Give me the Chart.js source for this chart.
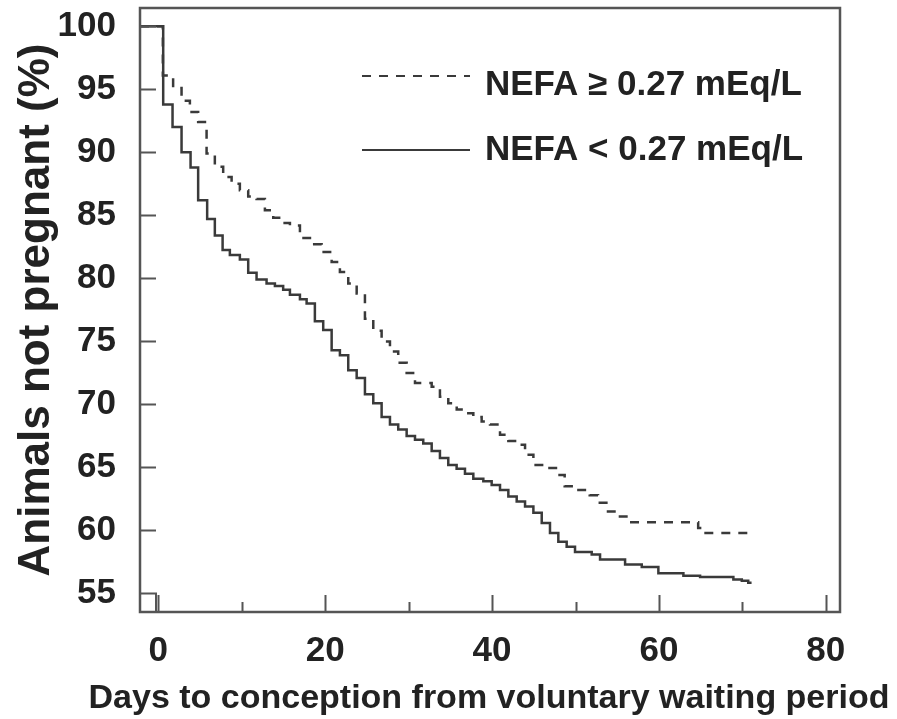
<!DOCTYPE html>
<html>
<head>
<meta charset="utf-8">
<script src="https://cdn.jsdelivr.net/npm/chart.js@4.4.0/dist/chart.umd.min.js"></script>
<style>
  html, body { margin: 0; padding: 0; background: #fff; }
  #wrap { width: 897px; height: 719px; }
</style>
</head>
<body>
<div id="wrap"><canvas id="myChart" width="897" height="719"></canvas></div>
<script>
// values (days, % not pregnant)
var highDays = [-2.2, 0.54, 1.77, 2.78, 3.78, 4.77, 5.78, 6.77, 7.77, 8.78, 9.77, 10.77, 11.77, 12.77, 13.77, 14.77, 15.77, 16.97, 18.17, 19.57,
  20.77, 21.76, 22.76, 23.77, 24.76, 25.76, 26.76, 27.76, 28.75, 29.76, 30.76, 32.76, 33.75, 34.75, 35.76, 36.95, 37.75, 38.75, 39.75,
  40.95, 41.95, 42.95, 43.95, 44.95, 46.3, 47.9, 48.7, 50.1, 51.7, 52.7, 53.7, 54.9, 56.3, 64.7, 65.3, 70.7];
var highValues = [100, 96.1, 95.1, 94.1, 93.2, 92.4, 89.9, 88.85, 88.05, 87.5, 87.0, 86.5, 86.3, 85.4, 84.8, 84.4, 84.2, 83.2, 82.7, 82.1,
  81.3, 80.5, 79.6, 78.8, 76.8, 75.85, 75.0, 74.2, 73.3, 72.5, 71.7, 71.4, 70.6, 70.1, 69.6, 69.3, 69.0, 68.65, 68.4,
  67.6, 67.1, 66.8, 66.0, 65.2, 64.95, 64.4, 63.5, 63.2, 62.8, 62.2, 61.5, 61.1, 60.65, 60.2, 59.8, 59.8];

var lowDays = [-2.2, 0.58, 1.70, 2.78, 3.86, 4.77, 5.85, 6.77, 7.70, 8.57, 9.77, 10.77, 11.77, 12.97, 13.97, 14.96, 15.77, 16.97, 17.77, 18.76,
  19.76, 20.77, 21.76, 22.76, 23.77, 24.76, 25.76, 26.76, 27.76, 28.75, 29.76, 30.76, 31.75, 32.76, 33.75, 34.75, 35.75, 36.75, 37.75,
  38.95, 39.95, 40.95, 41.95, 42.95, 43.95, 44.95, 45.95, 46.94, 47.94, 48.94, 49.94, 51.94, 52.94, 55.94, 57.94, 59.93, 62.93, 64.93,
  68.92, 69.93, 70.7, 71.1];
var lowValues = [100, 93.8, 92.0, 90.0, 88.8, 86.2, 84.7, 83.4, 82.25, 81.85, 81.5, 80.45, 79.9, 79.6, 79.4, 79.1, 78.7, 78.35, 78.0, 76.6,
  75.9, 74.3, 73.9, 72.7, 72.1, 70.8, 70.1, 69.0, 68.4, 68.0, 67.5, 67.2, 66.9, 66.3, 65.75, 65.2, 64.9, 64.5, 64.1,
  63.9, 63.6, 63.2, 62.7, 62.3, 61.9, 61.4, 60.6, 59.8, 59.1, 58.7, 58.3, 58.1, 57.7, 57.3, 57.1, 56.6, 56.4, 56.3,
  56.1, 56.0, 55.85, 55.85];

var seriesLabels = ["NEFA \u2265 0.27 mEq/L", "NEFA < 0.27 mEq/L"];
var xTicks = [0, 20, 40, 60, 80];
var xMinorTicks = [10, 30, 50, 70];
var yTicks = [55, 60, 65, 70, 75, 80, 85, 90, 95, 100];
var xTitle = "Days to conception from voluntary waiting period";

var ink = "#3a3a3a";
var textInk = "#222222";
var fontName = "'Liberation Sans', Arial, sans-serif";

function toPoints(days, vals) {
    return days.map(function (d, i) { return { x: d, y: vals[i] }; });
}

// frame, inward ticks, x title (wider than the plot) and legend
var decor = {
    id: 'decor',
    afterDatasetsDraw: function (chart) {
        var ctx = chart.ctx;
        var a = chart.chartArea;
        var xs = chart.scales.x, ys = chart.scales.y;
        ctx.save();
        ctx.strokeStyle = "#555";
        ctx.lineWidth = 2.5;
        ctx.strokeRect(a.left, a.top, a.right - a.left, a.bottom - a.top);

        ctx.lineWidth = 2;
        ctx.beginPath();
        yTicks.forEach(function (v) {
            var y = Math.round(ys.getPixelForValue(v)) + 0.5;
            ctx.moveTo(a.left, y);
            ctx.lineTo(a.left + 16, y);
            if (v === yTicks[0]) ctx.lineTo(a.left + 16, a.bottom);
        });
        xTicks.forEach(function (v) {
            var x = Math.round(xs.getPixelForValue(v)) + 0.5;
            ctx.moveTo(x, a.bottom);
            ctx.lineTo(x, a.bottom - 17);
        });
        xMinorTicks.forEach(function (v) {
            var x = Math.round(xs.getPixelForValue(v)) + 0.5;
            ctx.moveTo(x, a.bottom);
            ctx.lineTo(x, a.bottom - 10);
        });
        ctx.stroke();

        ctx.fillStyle = textInk;
        ctx.font = "bold 34px " + fontName;
        ctx.textAlign = "center";
        ctx.textBaseline = "alphabetic";
        ctx.fillText(xTitle, (a.left + a.right) / 2 - 1, 708);

        // legend
        var rows = [{ line: 76, base: 95 }, { line: 150, base: 160 }];
        ctx.textAlign = "left";
        chart.data.datasets.forEach(function (ds, i) {
            ctx.strokeStyle = ds.borderColor;
            ctx.lineWidth = 2.2;
            ctx.setLineDash(ds.borderDash || []);
            ctx.beginPath();
            ctx.moveTo(362, rows[i].line);
            ctx.lineTo(470, rows[i].line);
            ctx.stroke();
            ctx.setLineDash([]);
            ctx.font = "bold 35px " + fontName;
            ctx.fillText(ds.label, 485, rows[i].base);
        });
        ctx.restore();
    }
};

var ctx = document.getElementById("myChart").getContext("2d");

var data = {
    datasets: [
        {
            label: seriesLabels[0],
            data: toPoints(highDays, highValues),
            borderColor: ink,
            borderWidth: 2.5,
            borderDash: [9, 8],
            stepped: true,
            pointRadius: 0,
            fill: false
        },
        {
            label: seriesLabels[1],
            data: toPoints(lowDays, lowValues),
            borderColor: ink,
            borderWidth: 2.5,
            stepped: true,
            pointRadius: 0,
            fill: false
        }
    ]
};

var config = {
    type: 'line',
    data: data,
    options: {
        responsive: false,
        animation: false,
        layout: { padding: { top: 8, right: 57, left: 0, bottom: 0 } },
        plugins: {
            legend: { display: false },
            tooltip: { enabled: false }
        },
        scales: {
            x: {
                type: 'linear',
                min: -2.2,
                max: 81.7,
                afterBuildTicks: function (s) { s.ticks = xTicks.map(function (v) { return { value: v }; }); },
                afterFit: function (s) { s.height = 107; s.paddingLeft = 0; s.paddingRight = 0; },
                grid: { display: false },
                border: { display: false },
                ticks: {
                    color: textInk,
                    padding: 10,
                    maxRotation: 0,
                    font: { family: fontName, size: 35, weight: 'bold' }
                }
            },
            y: {
                min: 53.53,
                max: 101.45,
                afterBuildTicks: function (s) { s.ticks = yTicks.map(function (v) { return { value: v }; }); },
                afterFit: function (s) { s.width = 140; s.paddingTop = 0; s.paddingBottom = 0; },
                grid: { display: false },
                border: { display: false },
                ticks: {
                    color: textInk,
                    padding: 16,
                    font: { family: fontName, size: 35, weight: 'bold' }
                },
                title: {
                    display: true,
                    text: 'Animals not pregnant (%)',
                    color: textInk,
                    padding: { top: 10, bottom: 0 },
                    font: { family: fontName, size: 44, weight: 'bold' }
                }
            }
        }
    },
    plugins: [decor]
};

var myChart = new Chart(ctx, config);
</script>
</body>
</html>
